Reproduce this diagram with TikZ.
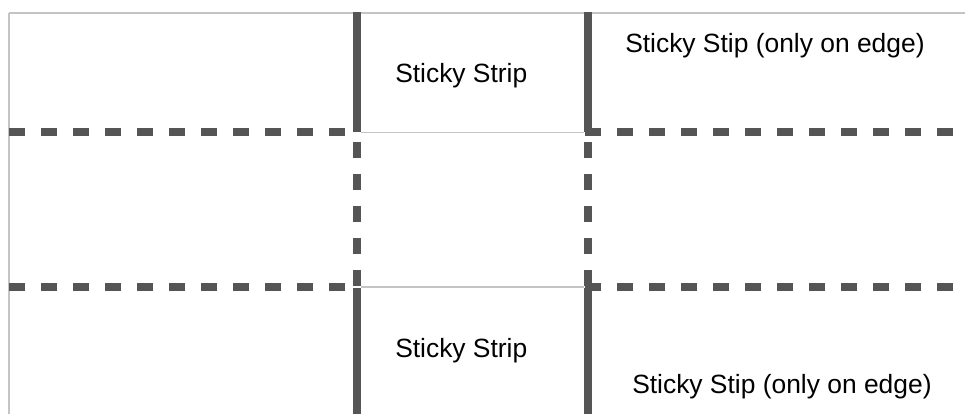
\documentclass[tikz,border=0pt]{standalone}
\usepackage{fontspec}
\setmainfont{Liberation Sans}
\definecolor{stripgray}{HTML}{555555}
\definecolor{edgegray}{HTML}{C4C4C4}

\begin{document}
\begin{tikzpicture}[
      x=0.75pt, y=-0.75pt,
      outline/.style={
        draw=edgegray,
        line width=0.9pt
      },
      strip/.style={
        draw=stripgray,
        line width=5.8pt
      },
      fold/.style={
        draw=stripgray,
        line width=5.8pt,
        dash pattern=on 12pt off 12pt
      },
      caption/.style={
        font=\fontsize{19.8}{24}\selectfont,
        inner sep=0pt,
        anchor=base west
      },
    ]

    \useasboundingbox (0,0) rectangle (965,414);

    % corners of the sheet
    \coordinate (tl) at (9,13);
    \coordinate (tr) at (965,13);
    \coordinate (bl) at (9,414);

    % thin outline
    \draw [outline] (tl) -- (tr);
    \draw [outline] (tl) -- (bl);
    \draw [outline] (361,132.5) -- (584,132.5);
    \draw [outline] (361,287) -- (584,287);

    % horizontal folds
    \draw [fold] (9,132) -- (345,132);
    \draw [fold] (585,132) -- (953,132);
    \draw [fold] (9,287) -- (345,287);
    \draw [fold] (585,287) -- (953,287);

    % vertical strips, solid at the ends, folded in the middle
    \foreach \x in {357,588} {
      \draw [strip] (\x,12) -- (\x,132);
      \draw [fold] (\x,142) -- (\x,286);
      \draw [strip] (\x,288) -- (\x,414);
    }

    \node [caption] (stripA) at (395,82) {Sticky Strip};
    \node [caption] (stripB) at (395,357) {Sticky Strip};
    \node [caption] (edgeA) at (625,52) {Sticky Stip (only on edge)};
    \node [caption] (edgeB) at (632,393) {Sticky Stip (only on edge)};
  \end{tikzpicture}
\end{document}
